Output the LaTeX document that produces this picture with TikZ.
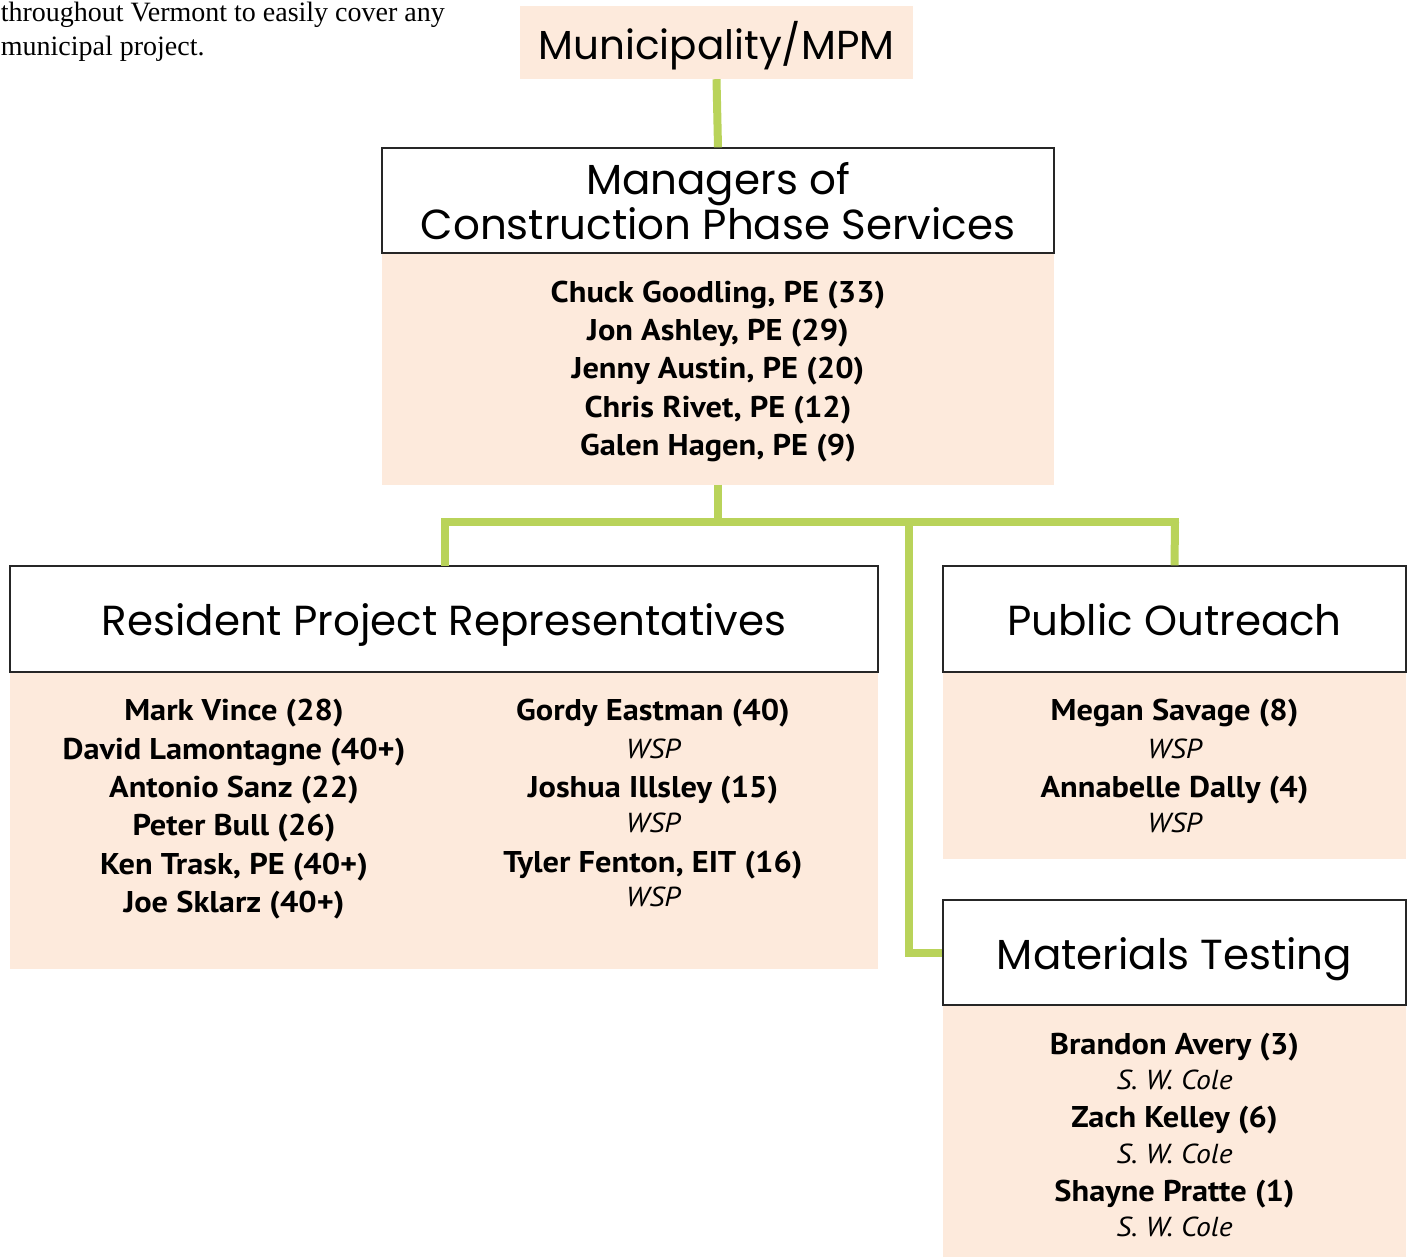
\documentclass[tikz,border=0pt]{standalone}
\usepackage{fontspec}
\newfontfamily\hdrfont{Poppins}
\newfontfamily\bodyfont[FakeStretch=1.08]{PT Sans}
\newfontfamily\introfont{Liberation Serif}
\definecolor{peach}{RGB}{253,234,220}
\definecolor{lgreen}{RGB}{185,211,90}
\begin{document}
\begin{tikzpicture}[x=1pt,y=-1pt,
  hbox/.style={draw=black!85,line width=1.3pt,fill=white,minimum width=#1,inner sep=0pt},
  pbox/.style={fill=peach,minimum width=#1,inner sep=0pt},
  htext/.style={font=\hdrfont\fontsize{42}{46}\selectfont,anchor=base,inner sep=0pt},
  pname/.style={font=\bodyfont\bfseries\fontsize{30}{34}\selectfont,anchor=base,inner sep=0pt},
  firm/.style={font=\bodyfont\itshape\fontsize{27.5}{31}\selectfont,anchor=base,inner sep=0pt},
  intro/.style={font=\introfont\fontsize{28}{32}\selectfont,inner sep=0pt},
  link/.style={draw=lgreen,line width=8pt}]
\useasboundingbox (0,0) rectangle (1411,1256);
% intro text
\node[intro,anchor=base east] (intro1) at (445,21) {throughout Vermont to easily cover any};
\node[intro,anchor=base west] (intro2) at ([yshift=-34pt]intro1.base west) {municipal project.};
% boxes
\node[pbox=393pt,minimum height=73pt] (mun) at (716.5,42.5) {};
\node[htext,font=\hdrfont\fontsize{40.5}{44}\selectfont] (muntxt) at (716.5,59) {Municipality/MPM};
\node[hbox=672pt,minimum height=105pt] (mgrh) at (718,200.5) {};
\node[htext] (mgrtxt1) at (718,194) {Managers of};
\node[htext] (mgrtxt2) at (718,239) {Construction Phase Services};
\node[pbox=672pt,minimum height=231pt] (mgrb) at (718,369) {};
\node[hbox=868pt,minimum height=106pt] (resh) at (444,619) {};
\node[htext] (restxt) at (444,635) {Resident Project Representatives};
\node[pbox=868pt,minimum height=296pt] (resb) at (444,820.5) {};
\node[hbox=463pt,minimum height=106pt] (puh) at (1174.5,619) {};
\node[htext] (putxt) at (1174.5,635) {Public Outreach};
\node[pbox=463pt,minimum height=186pt] (pub) at (1174.5,765.5) {};
\node[hbox=463pt,minimum height=105pt] (math) at (1174.5,952.5) {};
\node[htext] (mattxt) at (1174.5,969) {Materials Testing};
\node[pbox=463pt,minimum height=251pt] (matb) at (1174.5,1131) {};
% managers names
\node[pname] (m1) at (718,302) {Chuck Goodling, PE (33)};
\node[pname] (m2) at (718,340) {Jon Ashley, PE (29)};
\node[pname] (m3) at (718,378) {Jenny Austin, PE (20)};
\node[pname] (m4) at (718,417) {Chris Rivet, PE (12)};
\node[pname] (m5) at (718,455) {Galen Hagen, PE (9)};
% resident left
\node[pname] (r1) at (234,720) {Mark Vince (28)};
\node[pname] (r2) at (234,759) {David Lamontagne (40+)};
\node[pname] (r3) at (234,797) {Antonio Sanz (22)};
\node[pname] (r4) at (234,835) {Peter Bull (26)};
\node[pname] (r5) at (234,874) {Ken Trask, PE (40+)};
\node[pname] (r6) at (234,912) {Joe Sklarz (40+)};
% resident right
\node[pname] (r7) at (653,720) {Gordy Eastman (40)};
\node[firm] (f7) at (653,758) {WSP};
\node[pname] (r8) at (653,797) {Joshua Illsley (15)};
\node[firm] (f8) at (653,832) {WSP};
\node[pname] (r9) at (653,872) {Tyler Fenton, EIT (16)};
\node[firm] (f9) at (653,906) {WSP};
% public outreach
\node[pname] (p1) at (1174.5,720) {Megan Savage (8)};
\node[firm] (pf1) at (1174.5,758) {WSP};
\node[pname] (p2) at (1174.5,797) {Annabelle Dally (4)};
\node[firm] (pf2) at (1174.5,832) {WSP};
% materials
\node[pname] (t1) at (1174.5,1054) {Brandon Avery (3)};
\node[firm] (tf1) at (1174.5,1089) {S. W. Cole};
\node[pname] (t2) at (1174.5,1127) {Zach Kelley (6)};
\node[firm] (tf2) at (1174.5,1163) {S. W. Cole};
\node[pname] (t3) at (1174.5,1201) {Shayne Pratte (1)};
\node[firm] (tf3) at (1174.5,1236) {S. W. Cole};
% connectors
\coordinate (j) at (718,522);
\draw[link] (mun.south) -- (mgrh.north);
\draw[link] (mgrb.south) -- (j);
\draw[link,line cap=rect] (445,522) -- (1175,522);
\draw[link] (445,522) -- (445,566);
\draw[link] (1175,522) -- (puh.north);
\coordinate (k) at (909,522);
\draw[link] (k) |- (math.west);
\end{tikzpicture}
\end{document}
